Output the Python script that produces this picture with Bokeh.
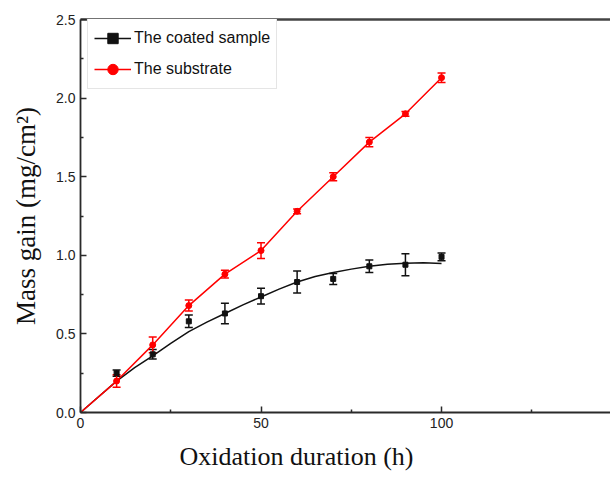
from bokeh.plotting import figure
from bokeh.models import (ColumnDataSource, Whisker, TeeHead, Legend, LegendItem,
                          Title, FixedTicker, PrintfTickFormatter, LinearAxis)
from bokeh.embed import file_html
from bokeh.resources import INLINE

# ---- data ----
hours = [10, 20, 30, 40, 50, 60, 70, 80, 90, 100]
coated_mean = [0.25, 0.37, 0.58, 0.63, 0.74, 0.83, 0.85, 0.93, 0.94, 0.99]
coated_err = [0.02, 0.03, 0.04, 0.065, 0.05, 0.07, 0.035, 0.04, 0.07, 0.025]

substrate_hours = [0, 10, 20, 30, 40, 50, 60, 70, 80, 90, 100]
substrate_mean = [0.0, 0.20, 0.43, 0.68, 0.88, 1.03, 1.28, 1.50, 1.72, 1.90, 2.13]
substrate_err = [0.0, 0.04, 0.05, 0.035, 0.025, 0.05, 0.015, 0.025, 0.03, 0.015, 0.03]

fit_hours = [0, 5, 10, 15, 20, 25, 30, 35, 40, 45, 50, 55, 60, 65, 70, 75, 80, 85, 90, 95, 100]
fit_values = [0.0, 0.10, 0.20, 0.285, 0.36, 0.44, 0.515, 0.575, 0.63, 0.685, 0.735, 0.785,
              0.83, 0.865, 0.89, 0.912, 0.93, 0.943, 0.95, 0.952, 0.948]

x_ticks = [0, 50, 100]
x_minor = [25, 75, 125]
y_ticks = [0.0, 0.5, 1.0, 1.5, 2.0, 2.5]
y_minor = [0.25, 0.75, 1.25, 1.75, 2.25]

x_title = "Oxidation duration (h)"
y_title = "Mass gain (mg/cm\u00b2)"
labels = ["The coated sample", "The substrate"]

# ---- figure ----
p = figure(width=610, height=480, x_range=(0, 146.8), y_range=(0, 2.5),
           output_backend="svg", toolbar_location=None,
           min_border_left=80, min_border_right=0, min_border_top=19, min_border_bottom=68)
p.grid.visible = False
p.outline_line_color = None
p.background_fill_color = "white"
p.border_fill_color = "white"

xax = p.xaxis[0]
yax = p.yaxis[0]

for ax in (xax, yax):
    ax.axis_line_color = "#2a2a2a"
    ax.axis_line_width = 1.8
    ax.major_tick_in = 6
    ax.major_tick_out = 0
    ax.minor_tick_in = 3
    ax.minor_tick_out = 0
    ax.major_tick_line_color = "#2a2a2a"
    ax.minor_tick_line_color = "#2a2a2a"
    ax.major_tick_line_width = 1.5
    ax.minor_tick_line_width = 1.5
    ax.major_label_text_font = "Liberation Sans"
    ax.major_label_text_font_size = "14px"
    ax.major_label_text_color = "#222222"

xax.ticker = FixedTicker(ticks=x_ticks, minor_ticks=x_minor)
yax.ticker = FixedTicker(ticks=y_ticks, minor_ticks=y_minor)
yax.formatter = PrintfTickFormatter(format="%.1f")
xax.major_label_standoff = 5
yax.major_label_standoff = 5

yax.axis_label = y_title
yax.axis_label_text_font = "Liberation Serif"
yax.axis_label_text_font_size = "27px"
yax.axis_label_text_font_style = "normal"
yax.axis_label_text_color = "#111111"
yax.axis_label_standoff = 12

top_axis = LinearAxis(major_tick_in=0, major_tick_out=0, minor_tick_in=0, minor_tick_out=0,
                      major_label_text_font_size="0px", axis_line_color="#444444",
                      axis_line_width=2.5, ticker=FixedTicker(ticks=[]))
p.add_layout(top_axis, "above")

xt = Title(text=x_title, align="left", offset=99, standoff=18, text_line_height=0.8,
           text_font="Liberation Serif", text_font_size="26px", text_font_style="normal",
           text_color="#111111")
p.add_layout(xt, "below")

# ---- coated sample ----
c_src = ColumnDataSource(dict(x=hours, y=coated_mean,
                              lo=[m - e for m, e in zip(coated_mean, coated_err)],
                              hi=[m + e for m, e in zip(coated_mean, coated_err)]))
p.add_layout(Whisker(base="x", lower="lo", upper="hi", source=c_src,
                     line_color="#111111", line_width=1.5,
                     lower_head=TeeHead(size=8, line_color="#111111", line_width=1.5),
                     upper_head=TeeHead(size=8, line_color="#111111", line_width=1.5)))
fit_line = p.line(fit_hours, fit_values, line_color="#111111", line_width=1.5)
c_pts = p.scatter("x", "y", source=c_src, marker="square", size=5,
                  fill_color="#111111", line_color="#111111")

# ---- substrate ----
s_src = ColumnDataSource(dict(x=substrate_hours[1:], y=substrate_mean[1:],
                              lo=[m - e for m, e in zip(substrate_mean[1:], substrate_err[1:])],
                              hi=[m + e for m, e in zip(substrate_mean[1:], substrate_err[1:])]))
p.add_layout(Whisker(base="x", lower="lo", upper="hi", source=s_src,
                     line_color="#ff0000", line_width=1.5,
                     lower_head=TeeHead(size=8, line_color="#ff0000", line_width=1.5),
                     upper_head=TeeHead(size=8, line_color="#ff0000", line_width=1.5)))
s_line = p.line(substrate_hours, substrate_mean, line_color="#ff0000", line_width=1.5)
s_pts = p.scatter("x", "y", source=s_src, marker="circle", size=6,
                  fill_color="#ff0000", line_color="#ff0000")

legend = Legend(items=[LegendItem(label=labels[0], renderers=[fit_line, c_pts]),
                       LegendItem(label=labels[1], renderers=[s_line, s_pts])],
                location=(7, 323), margin=0, padding=6, spacing=5,
                glyph_width=37, glyph_height=26, label_standoff=3,
                label_text_font="Liberation Sans", label_text_font_size="16px",
                label_text_color="#111111",
                border_line_color="#cccccc", border_line_width=1.5,
                background_fill_color="white", background_fill_alpha=1.0)
p.add_layout(legend)

open("out.html", "w").write(file_html(p, INLINE))
